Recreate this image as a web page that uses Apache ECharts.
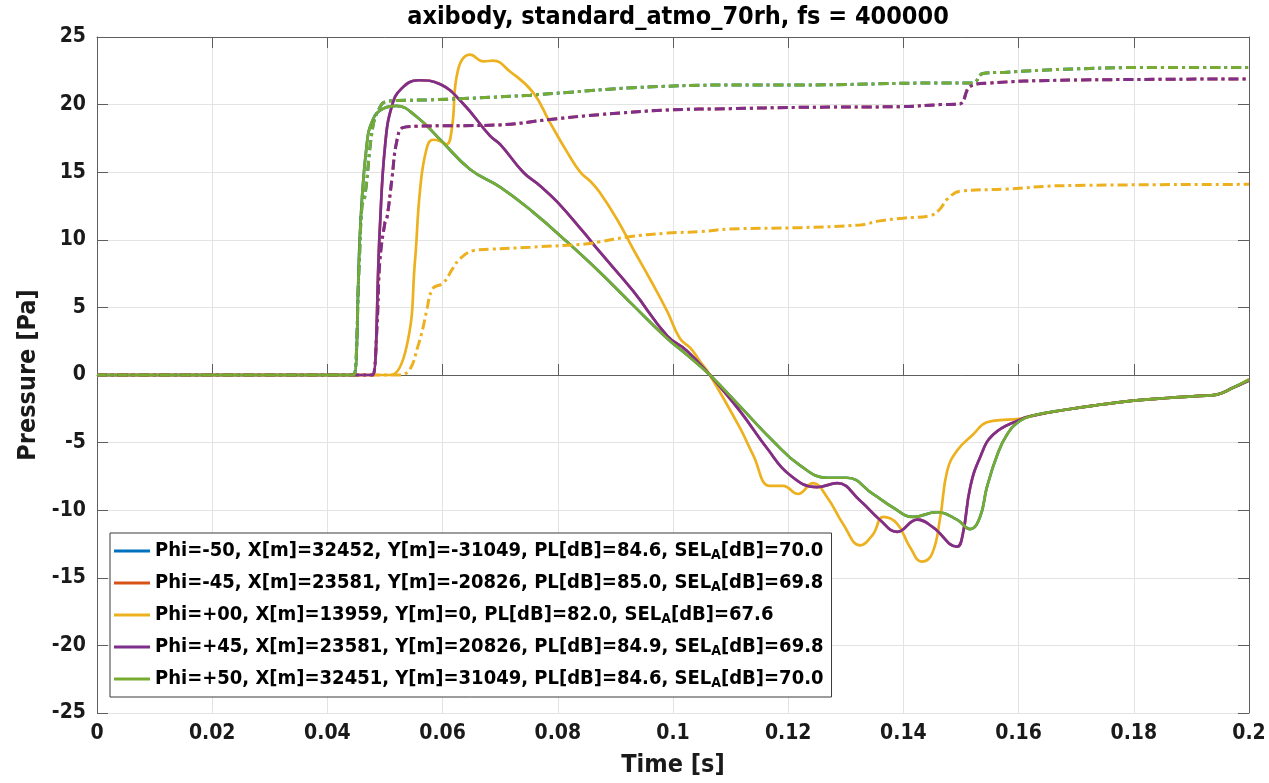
<!DOCTYPE html>
<html>
<head>
<meta charset="utf-8">
<script src="https://cdn.jsdelivr.net/npm/echarts@6/dist/echarts.min.js"></script>
<style>
  html, body { margin: 0; padding: 0; background: #fff; }
  #chart { width: 1269px; height: 783px; }
</style>
</head>
<body>
<div id="chart"></div>
<script>
// legend labels, one per observer angle
const legendNames = [
  "Phi=-50, X[m]=32452, Y[m]=-31049, PL[dB]=84.6, SEL_A[dB]=70.0",
  "Phi=-45, X[m]=23581, Y[m]=-20826, PL[dB]=85.0, SEL_A[dB]=69.8",
  "Phi=+00, X[m]=13959, Y[m]=0, PL[dB]=82.0, SEL_A[dB]=67.6",
  "Phi=+45, X[m]=23581, Y[m]=20826, PL[dB]=84.9, SEL_A[dB]=69.8",
  "Phi=+50, X[m]=32451, Y[m]=31049, PL[dB]=84.6, SEL_A[dB]=70.0"
];
const colors = ["#0072BD", "#D95319", "#EDB120", "#7E2F8E", "#77AC30"];

const xTicks = [0, 0.02, 0.04, 0.06, 0.08, 0.1, 0.12, 0.14, 0.16, 0.18, 0.2];
const yTicks = [-25, -20, -15, -10, -5, 0, 5, 10, 15, 20, 25];

// pressure signatures (solid)
const timeP50 = [0, 0.0440, 0.0446, 0.0457, 0.0468, 0.0479, 0.0497, 0.0520, 0.0555, 0.0596, 0.0648, 0.0700, 0.0757, 0.0816, 0.0873, 0.0931, 0.0990, 0.1024, 0.1064, 0.1116, 0.1174, 0.1221, 0.1267, 0.1302, 0.1347, 0.1382, 0.1417, 0.1458, 0.1493, 0.1516, 0.1533, 0.1545, 0.1563, 0.1580, 0.1602, 0.1625, 0.1684, 0.1741, 0.1799, 0.1858, 0.1915, 0.1944, 0.1972, 0.2];
const presP50 = [0, 0, 0, 10.8, 16.9, 18.9, 19.7, 19.9, 19.1, 17.4, 15.2, 13.9, 12.05, 9.85, 7.6, 5.15, 2.7, 1.5, 0, -2.3, -4.9, -6.7, -7.6, -7.6, -8.8, -9.8, -10.5, -10.15, -10.7, -11.4, -10.5, -8.3, -5.9, -4.4, -3.4, -3.0, -2.55, -2.2, -1.9, -1.7, -1.55, -1.45, -0.95, -0.35];

const timeP45 = [0, 0.0474, 0.0479, 0.0491, 0.0500, 0.0512, 0.0529, 0.0558, 0.0596, 0.0635, 0.0682, 0.0700, 0.0740, 0.0769, 0.0799, 0.0844, 0.0873, 0.0931, 0.0990, 0.1024, 0.1064, 0.1116, 0.1163, 0.1203, 0.1250, 0.1285, 0.1325, 0.1359, 0.1389, 0.1424, 0.1451, 0.1493, 0.1503, 0.1516, 0.1533, 0.1556, 0.1602, 0.1625, 0.1684, 0.1741, 0.1799, 0.1858, 0.1915, 0.1944, 0.1972, 0.2];
const presP45 = [0, 0, 0, 10.8, 16.9, 19.9, 21.2, 21.8, 21.5, 20.1, 17.7, 17.06, 15.0, 14.0, 12.8, 10.6, 9.1, 6.2, 2.9, 1.8, 0, -2.65, -5.4, -7.4, -8.3, -8.0, -9.3, -10.7, -11.6, -10.7, -11.25, -12.7, -11.8, -8.3, -6.1, -4.4, -3.3, -3.0, -2.55, -2.2, -1.9, -1.7, -1.55, -1.45, -0.95, -0.4];

const timeP00 = [0, 0.0504, 0.0510, 0.0538, 0.0552, 0.0561, 0.0572, 0.0583, 0.0596, 0.0607, 0.0616, 0.0627, 0.0648, 0.0671, 0.0688, 0.0717, 0.0757, 0.0786, 0.0816, 0.0839, 0.0856, 0.0873, 0.0903, 0.0931, 0.0960, 0.0990, 0.1012, 0.1030, 0.1047, 0.1064, 0.1116, 0.1139, 0.1168, 0.1191, 0.1217, 0.1243, 0.1267, 0.1295, 0.1325, 0.1347, 0.1365, 0.1389, 0.1411, 0.1432, 0.1450, 0.1464, 0.1476, 0.1493, 0.1521, 0.1545, 0.1580, 0.1602, 0.1625, 0.1684, 0.1741, 0.1799, 0.1858, 0.1915, 0.1944, 0.1972, 0.2];
const presP00 = [0, 0, 0, 2.2, 8.4, 13.75, 16.7, 17.4, 17.3, 17.06, 18.2, 22.6, 23.7, 23.2, 23.25, 22.45, 20.9, 18.7, 16.5, 15.0, 14.35, 13.5, 11.5, 9.3, 7.1, 4.7, 2.7, 2.0, 1.0, 0, -3.9, -5.9, -8.2, -8.2, -8.8, -8.0, -9.0, -11.0, -12.6, -11.8, -10.5, -11.0, -12.7, -13.8, -13.2, -10.5, -7.1, -5.6, -4.4, -3.5, -3.3, -3.25, -3.0, -2.55, -2.2, -1.9, -1.7, -1.55, -1.45, -0.95, -0.3];

// dash-dot curves
const timeDashP50 = [0, 0.0440, 0.0446, 0.0455, 0.0460, 0.0465, 0.0479, 0.0491, 0.0500, 0.0521, 0.0578, 0.0665, 0.0752, 0.0816, 0.0931, 0.1099, 0.1221, 0.1464, 0.1521, 0.1538, 0.1580, 0.1672, 0.1828, 0.2];
const valDashP50 = [0, 0, 0, 8, 12.5, 13.2, 18.4, 19.8, 20.2, 20.3, 20.35, 20.5, 20.7, 20.9, 21.25, 21.45, 21.45, 21.6, 21.6, 22.3, 22.4, 22.6, 22.75, 22.75];

const timeDashP45 = [0, 0.0474, 0.0479, 0.0486, 0.0491, 0.0500, 0.0503, 0.0512, 0.0520, 0.0531, 0.0555, 0.0700, 0.0786, 0.0873, 0.0990, 0.1099, 0.1221, 0.1394, 0.1464, 0.1498, 0.1516, 0.1550, 0.1672, 0.2];
const valDashP45 = [0, 0, 0, 3.5, 8.4, 11.3, 11.5, 14.5, 17.2, 18.3, 18.4, 18.5, 18.9, 19.26, 19.6, 19.7, 19.8, 19.85, 20.0, 20.05, 21.35, 21.6, 21.8, 21.9];

const timeDashP00 = [0, 0.0520, 0.0526, 0.0543, 0.0557, 0.0566, 0.0572, 0.0583, 0.0601, 0.0618, 0.0630, 0.0653, 0.0682, 0.0752, 0.0851, 0.0873, 0.0920, 0.0990, 0.1047, 0.1099, 0.1221, 0.1325, 0.1359, 0.1399, 0.1448, 0.1464, 0.1476, 0.1498, 0.1580, 0.1672, 0.2];
const valDashP00 = [0, 0, 0, 0.4, 2.1, 3.5, 4.7, 6.4, 6.8, 7.9, 8.6, 9.2, 9.3, 9.45, 9.7, 9.85, 10.2, 10.5, 10.6, 10.8, 10.9, 11.1, 11.4, 11.6, 11.8, 12.3, 13.0, 13.6, 13.75, 14.0, 14.1];

// Phi=-50 / -45 are mirror images of +50 / +45 and sit right under them
const solidSets = [[timeP50, presP50], [timeP45, presP45], [timeP00, presP00], [timeP45, presP45], [timeP50, presP50]];
const dashSets = [[timeDashP50, valDashP50], [timeDashP45, valDashP45], [timeDashP00, valDashP00], [timeDashP45, valDashP45], [timeDashP50, valDashP50]];

const FONT = "DejaVu Sans Condensed";

function pairs(t, v) {
  return t.map((x, i) => [x, v[i]]);
}

let series = [];
solidSets.forEach((s, i) => {
  series.push({
    name: legendNames[i],
    type: "line",
    data: pairs(s[0], s[1]),
    showSymbol: false,
    symbol: "none",
    smooth: 0.45,
    color: colors[i],
    lineStyle: { width: 2.7, color: colors[i] },
    z: 3
  });
});
dashSets.forEach((s, i) => {
  series.push({
    name: "dash" + i,
    type: "line",
    data: pairs(s[0], s[1]),
    showSymbol: false,
    symbol: "none",
    smooth: 0.4,
    color: colors[i],
    lineStyle: { width: 3, color: colors[i], type: [10, 4, 3, 4] },
    z: 3
  });
});

const axisLineStyle = { color: "#5e5e5e", width: 1 };
const tickLabelStyle = { fontFamily: FONT, fontWeight: "bold", fontSize: 21, color: "#1a1a1a" };
const nameStyle = { fontFamily: FONT, fontWeight: "bold", fontSize: 25, color: "#1a1a1a" };

var chartDom = document.getElementById("chart");
let chart = echarts.init(chartDom, null, { renderer: "canvas" });

let option = {
  animation: false,
  backgroundColor: "#fff",
  title: {
    text: "axibody, standard_atmo_70rh, fs = 400000",
    left: 673,
    top: 0,
    textAlign: "center",
    textStyle: { fontFamily: FONT, fontWeight: "bold", fontSize: 25, color: "#000" }
  },
  grid: { left: 97, right: 20, top: 37, bottom: 66, containLabel: false },
  legend: {
    data: legendNames,
    orient: "vertical",
    left: 110,
    top: 533,
    icon: "rect",
    itemWidth: 36,
    itemHeight: 3,
    itemGap: 10,
    padding: [7, 8, 7, 4],
    backgroundColor: "#fff",
    borderColor: "#3a3a3a",
    borderWidth: 1,
    borderRadius: 0,
    selectedMode: false,
    formatter: (name) => name.replace("SEL_A", "SEL{sub|A}"),
    textStyle: {
      fontFamily: FONT,
      fontWeight: "bold",
      fontSize: 20,
      lineHeight: 22,
      color: "#000",
      rich: {
        sub: { fontFamily: FONT, fontWeight: "bold", fontSize: 14, lineHeight: 14, padding: [8, 0, 0, 0], color: "#000" }
      }
    }
  },
  xAxis: [
    {
      type: "value",
      position: "bottom",
      min: xTicks[0],
      max: xTicks[xTicks.length - 1],
      interval: 0.02,
      name: "Time [s]",
      nameLocation: "middle",
      nameGap: 40,
      nameTextStyle: nameStyle,
      axisLine: { show: true, lineStyle: axisLineStyle },
      axisTick: { show: true, inside: true, length: 11, lineStyle: axisLineStyle },
      axisLabel: Object.assign({ margin: 10, formatter: (v) => String(+v.toFixed(2)) }, tickLabelStyle),
      splitLine: { show: true, lineStyle: { color: "#e3e3e3", width: 1 } }
    },
    {
      type: "value",
      position: "top",
      min: xTicks[0],
      max: xTicks[xTicks.length - 1],
      interval: 0.02,
      axisLine: { show: true, onZero: false, lineStyle: axisLineStyle },
      axisTick: { show: true, inside: true, length: 11, lineStyle: axisLineStyle },
      axisLabel: { show: false },
      splitLine: { show: false }
    }
  ],
  yAxis: [
    {
      type: "value",
      position: "left",
      min: yTicks[0],
      max: yTicks[yTicks.length - 1],
      interval: 5,
      name: "Pressure [Pa]",
      nameLocation: "middle",
      nameGap: 50,
      nameTextStyle: nameStyle,
      axisLine: { show: true, onZero: false, lineStyle: axisLineStyle },
      axisTick: { show: true, inside: true, length: 11, lineStyle: axisLineStyle },
      axisLabel: Object.assign({ margin: 11 }, tickLabelStyle),
      splitLine: { show: true, lineStyle: { color: "#e3e3e3", width: 1 } }
    },
    {
      type: "value",
      position: "right",
      min: yTicks[0],
      max: yTicks[yTicks.length - 1],
      interval: 5,
      axisLine: { show: true, onZero: false, lineStyle: axisLineStyle },
      axisTick: { show: true, inside: true, length: 11, lineStyle: axisLineStyle },
      axisLabel: { show: false },
      splitLine: { show: false }
    }
  ],
  series: series
};

chart.setOption(option);
</script>
</body>
</html>
